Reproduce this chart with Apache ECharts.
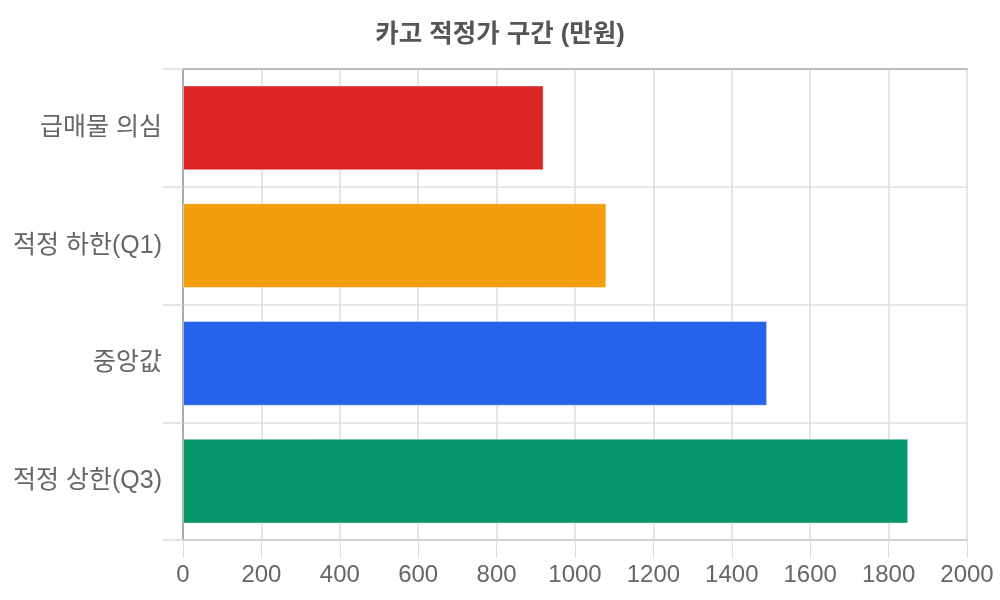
<!DOCTYPE html>
<html><head><meta charset="utf-8">
<script src="https://cdn.jsdelivr.net/npm/echarts@6/dist/echarts.min.js"></script>
<style>html,body{margin:0;padding:0;background:#fff}#c{width:1000px;height:600px}</style>
</head><body><div id="c"></div>
<script>
const categories = ['급매물 의심', '적정 하한(Q1)', '중앙값', '적정 상한(Q3)'];
const values = [920, 1080, 1490, 1850];
const barColors = ['#DC2626', '#F39E0C', '#2563EB', '#059669'];
const xTicks = [0, 200, 400, 600, 800, 1000, 1200, 1400, 1600, 1800, 2000];

const FONT = '"Liberation Sans", "Noto Sans CJK KR", sans-serif';
const chart = echarts.init(document.getElementById('c'));
chart.setOption({
  animation: false,
  textStyle: { fontFamily: FONT },
  title: {
    text: '카고 적정가 구간 (만원)', left: 'center', top: 17,
    textStyle: { fontSize: 25.5, fontWeight: 'bold', color: '#555', fontFamily: FONT }
  },
  grid: { left: 183, right: 33, top: 69, bottom: 60, containLabel: false },
  xAxis: [{
    type: 'value', min: xTicks[0], max: xTicks[xTicks.length - 1], interval: 200,
    axisLine: { show: true, lineStyle: { color: '#ccc', width: 1.5 } },
    axisTick: { show: true, length: 18, lineStyle: { color: '#ddd' } },
    splitLine: { show: true, lineStyle: { color: '#ddd', width: 1.5 } },
    axisLabel: { fontSize: 24, color: '#666', margin: 23, fontFamily: FONT, formatter: v => String(v) }
  }, {
    type: 'value', position: 'top', min: 0, max: 2000,
    axisLine: { show: true, lineStyle: { color: '#bbb', width: 2 } },
    axisTick: { show: false }, axisLabel: { show: false }, splitLine: { show: false }
  }],
  yAxis: {
    type: 'category', data: categories, inverse: true,
    axisLine: { show: true, lineStyle: { color: '#999', width: 1.5 } },
    axisTick: { show: true, length: 20, lineStyle: { color: '#ddd', width: 1.5 } },
    splitLine: { show: true, lineStyle: { color: '#e0e0e0', width: 1.5 } },
    axisLabel: { fontSize: 25, color: '#666', margin: 21, fontFamily: FONT }
  },
  series: [{
    type: 'bar',
    data: values.map((v, i) => ({ value: v, itemStyle: { color: barColors[i] } })),
    barCategoryGap: '28%',
    itemStyle: { borderColor: 'rgba(255,255,255,0.4)', borderWidth: 1 }
  }]
});
</script></body></html>
